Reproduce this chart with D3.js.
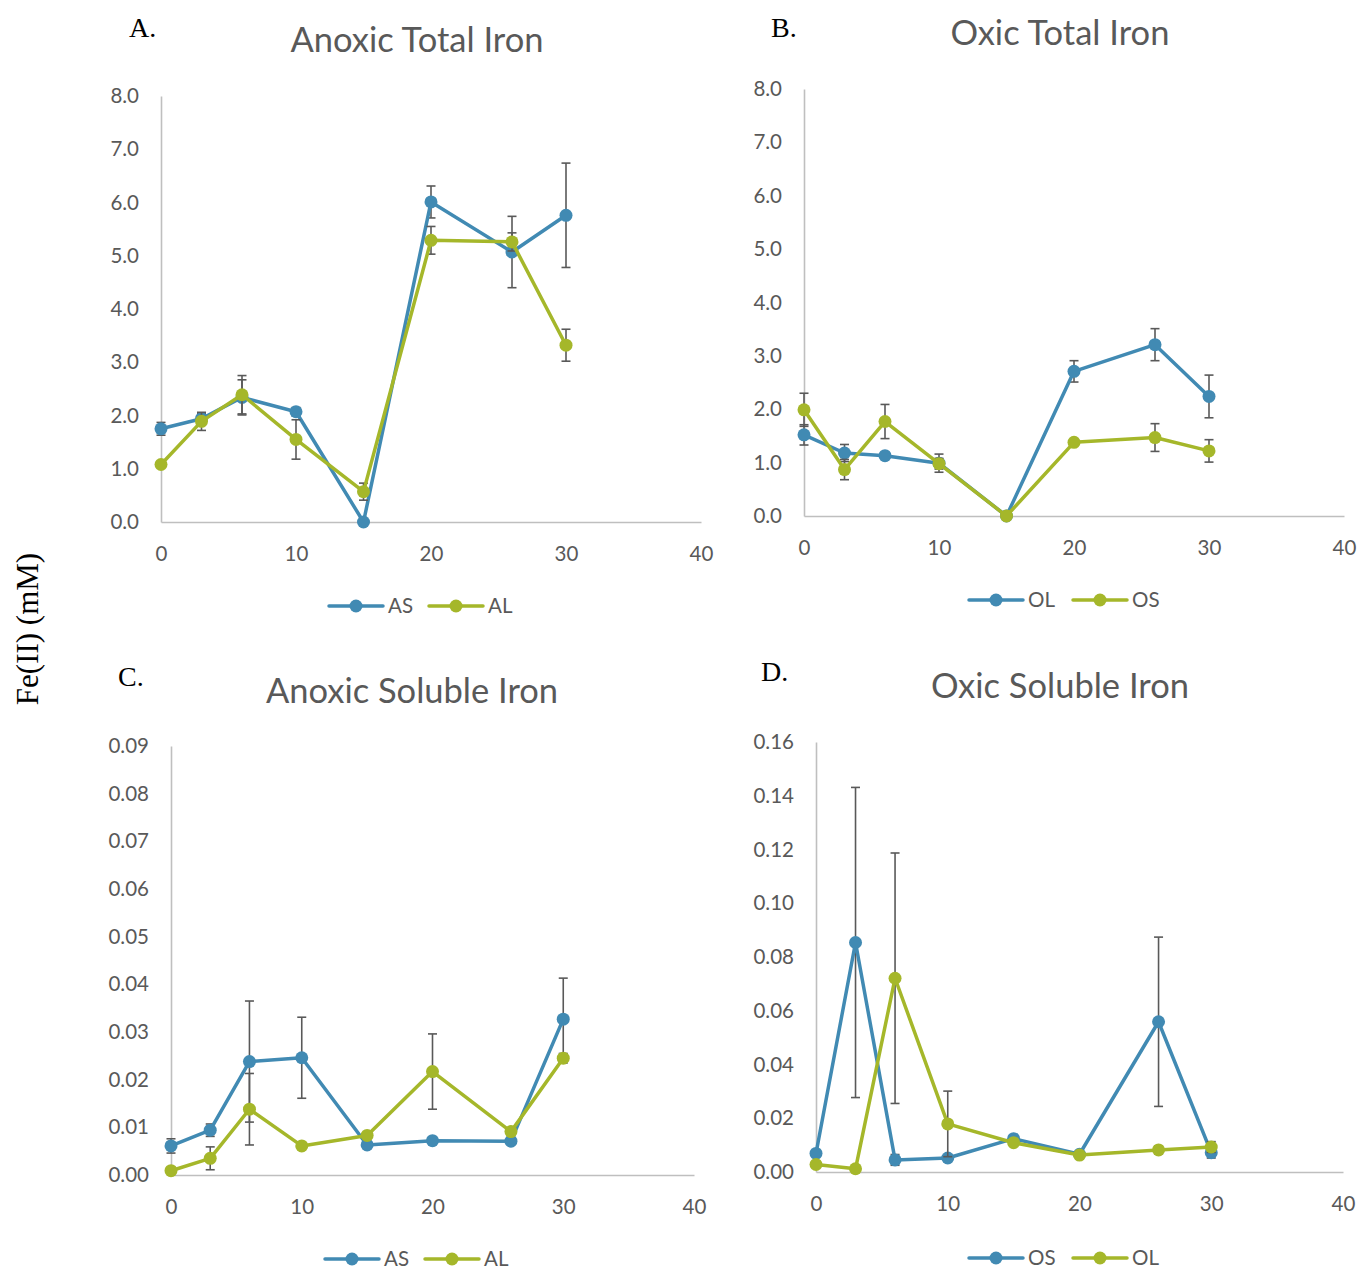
<!DOCTYPE html>
<html><head><meta charset="utf-8">
<script src="https://cdn.jsdelivr.net/npm/d3@7"></script>
<style>body{margin:0;background:#fff}svg{display:block}</style>
</head><body>
<script>
// ---- data ----
const days = [0, 3, 6, 10, 15, 20, 26, 30];
const xTicks = [0, 10, 20, 30, 40];

const aAS = [1.75, 1.94, 2.34, 2.07, 0.0, 6.01, 5.07, 5.76];
const aASerr = [0.12, 0.1, 0.33, 0.08, 0, 0.3, 0.67, 0.98];
const aAL = [1.08, 1.89, 2.39, 1.55, 0.57, 5.29, 5.26, 3.32];
const aALerr = [0.05, 0.17, 0.36, 0.37, 0.16, 0.26, 0.17, 0.3];

const bOL = [1.52, 1.18, 1.13, 0.99, 0.0, 2.71, 3.21, 2.24];
const bOLerr = [0.19, 0.16, 0, 0.17, 0, 0.2, 0.3, 0.4];
const bOS = [1.99, 0.87, 1.77, 0.98, 0.0, 1.38, 1.47, 1.22];
const bOSerr = [0.31, 0.19, 0.32, 0.1, 0, 0, 0.26, 0.21];

const cAS = [0.0061, 0.0094, 0.0238, 0.0246, 0.0063, 0.0072, 0.0071, 0.0327];
const cASerr = [0.0015, 0.0013, 0.0127, 0.0085, 0, 0, 0, 0.0086];
const cAL = [0.0009, 0.0035, 0.0138, 0.0061, 0.0083, 0.0217, 0.0091, 0.0245];
const cALerr = [0, 0.0024, 0.0075, 0, 0, 0.0079, 0, 0.001];

const dOS = [0.0069, 0.0854, 0.0045, 0.0052, 0.0124, 0.0066, 0.0559, 0.0072];
const dOSerr = [0, 0.0577, 0.002, 0.001, 0.001, 0, 0.0315, 0.002];
const dOL = [0.0028, 0.0012, 0.0721, 0.0179, 0.0109, 0.0063, 0.0082, 0.0093];
const dOLerr = [0.001, 0, 0.0466, 0.0122, 0, 0, 0.0015, 0.002];

const yTicksTotal = [0, 1, 2, 3, 4, 5, 6, 7, 8];
const yTicksC = [0, 0.01, 0.02, 0.03, 0.04, 0.05, 0.06, 0.07, 0.08, 0.09];
const yTicksD = [0, 0.02, 0.04, 0.06, 0.08, 0.10, 0.12, 0.14, 0.16];

const BLUE = "#418AB3", GREEN = "#A5B72A";
const TXT = "#595959", AXIS = "#BFBFBF", ERR = "#595959";

const panels = [
  {letter:"A.", title:"Anoxic Total Iron", lx:129, ly:37, tx:417, ty:52,
   x0:161, x1:701, yTop:96, yBot:522, yMax:8, yTicks:yTicksTotal, fmt:d3.format(".1f"),
   series:[{name:"AS", v:aAS, e:aASerr, c:BLUE},{name:"AL", v:aAL, e:aALerr, c:GREEN}],
   legY:606, legX:[329, 429]},
  {letter:"B.", title:"Oxic Total Iron", lx:771, ly:37, tx:1060, ty:45,
   x0:804, x1:1344, yTop:89, yBot:516, yMax:8, yTicks:yTicksTotal, fmt:d3.format(".1f"),
   series:[{name:"OL", v:bOL, e:bOLerr, c:BLUE},{name:"OS", v:bOS, e:bOSerr, c:GREEN}],
   legY:600, legX:[969, 1073]},
  {letter:"C.", title:"Anoxic Soluble Iron", lx:118, ly:686, tx:412, ty:703,
   x0:171, x1:694, yTop:746, yBot:1175, yMax:0.09, yTicks:yTicksC, fmt:d3.format(".2f"),
   series:[{name:"AS", v:cAS, e:cASerr, c:BLUE},{name:"AL", v:cAL, e:cALerr, c:GREEN}],
   legY:1259, legX:[325, 425]},
  {letter:"D.", title:"Oxic Soluble Iron", lx:761, ly:681, tx:1060, ty:698,
   x0:816, x1:1343, yTop:742, yBot:1172, yMax:0.16, yTicks:yTicksD, fmt:d3.format(".2f"),
   series:[{name:"OS", v:dOS, e:dOSerr, c:BLUE},{name:"OL", v:dOL, e:dOLerr, c:GREEN}],
   legY:1258, legX:[969, 1073]}
];

const W = 1361, H = 1270;
const svg = d3.select("body").append("svg").attr("width", W).attr("height", H)
  .style("font-family", "Lato, 'Open Sans', sans-serif");

// y-axis overall label
svg.append("text").attr("transform", "translate(38,629) rotate(-90)")
  .attr("text-anchor", "middle").attr("font-family", "'Liberation Serif','DejaVu Serif',serif")
  .attr("font-size", 31).attr("fill", "#000").text("Fe(II) (mM)");

panels.forEach(p => {
  const g = svg.append("g");
  const x = d3.scaleLinear().domain([0, 40]).range([p.x0, p.x1]);
  const y = d3.scaleLinear().domain([0, p.yMax]).range([p.yBot, p.yTop]);

  g.append("text").attr("x", p.lx).attr("y", p.ly)
    .attr("font-family", "'Liberation Serif','DejaVu Serif',serif")
    .attr("font-size", 28).attr("fill", "#000").text(p.letter);
  g.append("text").attr("x", p.tx).attr("y", p.ty).attr("text-anchor", "middle")
    .attr("font-size", 34.5).attr("fill", TXT).text(p.title);

  // axes via d3 axis generators
  const xAxis = d3.axisBottom(x).tickValues(xTicks).tickSize(0).tickPadding(24)
    .tickFormat(d3.format("d"));
  const xa = g.append("g").attr("transform", `translate(0,${p.yBot})`).call(xAxis);
  xa.select(".domain").attr("stroke", AXIS).attr("stroke-width", 1.6);
  xa.selectAll("text").attr("fill", TXT).attr("font-size", 20.5)
    .attr("font-family", "Lato, 'Open Sans', sans-serif");

  const yAxis = d3.axisLeft(y).tickValues(p.yTicks).tickSize(0).tickPadding(22)
    .tickFormat(p.fmt);
  const ya = g.append("g").attr("transform", `translate(${p.x0},0)`).call(yAxis);
  ya.select(".domain").attr("stroke", AXIS).attr("stroke-width", 1.6);
  ya.selectAll("text").attr("fill", TXT).attr("font-size", 20.5)
    .attr("font-family", "Lato, 'Open Sans', sans-serif");

  const line = d3.line().x((d, i) => x(days[i])).y(d => y(d));

  p.series.forEach(s => {
    const eg = g.append("g");
    s.v.forEach((v, i) => {
      if (!s.e[i]) return;
      const cx = x(days[i]), yt = y(v + s.e[i]), yb = y(Math.max(0, v - s.e[i]));
      eg.append("line").attr("x1", cx).attr("x2", cx).attr("y1", yt).attr("y2", yb)
        .attr("stroke", ERR).attr("stroke-width", 1.6);
      [yt, yb].forEach(yy => eg.append("line").attr("x1", cx - 4.5).attr("x2", cx + 4.5)
        .attr("y1", yy).attr("y2", yy).attr("stroke", ERR).attr("stroke-width", 1.6));
    });
    g.append("path").datum(s.v).attr("d", line).attr("fill", "none")
      .attr("stroke", s.c).attr("stroke-width", 3.5).attr("stroke-linejoin", "round");
    g.selectAll(null).data(s.v).enter().append("circle")
      .attr("cx", (d, i) => x(days[i])).attr("cy", d => y(d)).attr("r", 6.5)
      .attr("fill", s.c);
  });

  // legend
  p.series.forEach((s, k) => {
    const lx = p.legX[k];
    g.append("line").attr("x1", lx).attr("x2", lx + 54).attr("y1", p.legY).attr("y2", p.legY)
      .attr("stroke", s.c).attr("stroke-width", 3.5).attr("stroke-linecap", "round");
    g.append("circle").attr("cx", lx + 27).attr("cy", p.legY).attr("r", 6.5).attr("fill", s.c);
    g.append("text").attr("x", lx + 59).attr("y", p.legY).attr("dy", "0.35em")
      .attr("font-size", 20.5).attr("fill", TXT).text(s.name);
  });
});
</script>
</body></html>
